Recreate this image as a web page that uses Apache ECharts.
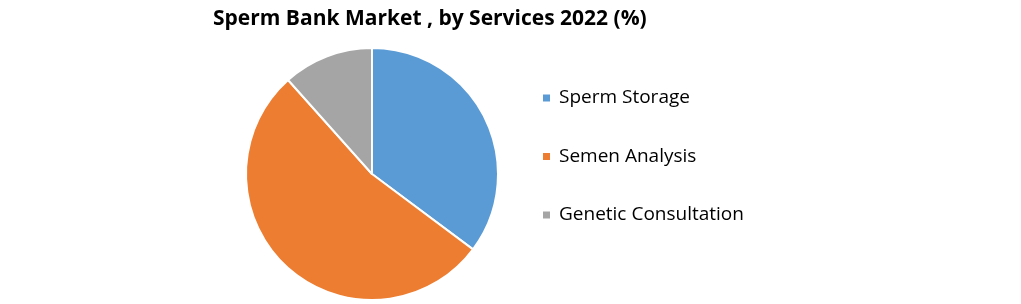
<!DOCTYPE html>
<html><head><meta charset="utf-8">
<script src="https://cdn.jsdelivr.net/npm/echarts@6/dist/echarts.min.js"></script>
<style>html,body{margin:0;padding:0;background:#fff}#c{width:1021px;height:304px}</style>
</head><body><div id="c"></div>
<script>
const categories = ["Sperm Storage", "Semen Analysis", "Genetic Consultation"];
const values = [35.2, 53.2, 11.6];
const colors = ["#5b9bd5", "#ed7d31", "#a5a5a5"];
const titleText = "Sperm Bank Market , by Services 2022 (%)";

const chart = echarts.init(document.getElementById('c'));
chart.setOption({
  animation: false,
  backgroundColor: '#fff',
  title: {
    text: titleText,
    left: 208, top: 4,
    textStyle: { fontFamily: 'Open Sans', fontWeight: 'bold', fontSize: 21, color: '#000' }
  },
  legend: {
    orient: 'vertical',
    left: 541, top: 88.5,
    padding: 0,
    itemWidth: 9, itemHeight: 9,
    itemGap: 39.5,
    icon: 'rect',
    textStyle: { fontFamily: 'Open Sans', fontSize: 19, color: '#000', padding: [0,0,0,3] },
    data: categories
  },
  series: [{
    type: 'pie',
    center: [372, 174],
    radius: 126,
    startAngle: 90,
    clockwise: true,
    label: { show: false },
    labelLine: { show: false },
    itemStyle: { borderColor: '#fff', borderWidth: 2 },
    data: categories.map((n, i) => ({ name: n, value: values[i], itemStyle: { color: colors[i] } }))
  }]
});
</script></body></html>
